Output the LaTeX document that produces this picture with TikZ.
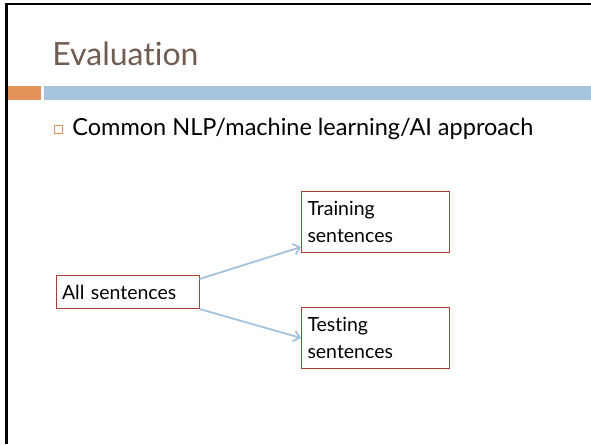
\documentclass[tikz,border=0pt]{standalone}
\usepackage{fontspec}
\setmainfont{Lato}[Ligatures=NoCommon]
\usepackage{tikz}
\usetikzlibrary{arrows.meta}
\usetikzlibrary{arrows}
\usetikzlibrary{calc}
\definecolor{titlebrown}{RGB}{112,92,82}
\definecolor{barorange}{RGB}{228,147,90}
\definecolor{barblue}{RGB}{165,195,219}
\definecolor{boxred}{RGB}{172,62,52}

\begin{document}
\begin{tikzpicture}[x=1pt, y=-1pt, auto, thick,
        title_style/.style={anchor=base west,inner sep=0pt,text=titlebrown,font=\fontsize{32}{32}\selectfont},
        text_style/.style={anchor=base west,inner sep=0pt,font=\fontsize{23.5}{24}\selectfont},
        box_style/.style={rectangle,draw=boxred,line width=1pt,anchor=north west,align=left,inner xsep=6pt,font=\fontsize{19.5}{27}\selectfont},
        link_style/.style={draw=barblue, line width=1.8pt,-{Straight Barb[length=6pt,width=11pt]}}]

        \useasboundingbox (0,0) rectangle (591,444);

        % slide frame and title bar
        \draw [line width=2.5pt] (6.5,444) -- (6.5,4) -- (591,4);
        \fill [barorange] (8,86) rectangle (41,100);
        \fill [barblue] (44,86) rectangle (591,100);

        \node [title_style](title) at (52,65) {Evaluation};

        \node [draw=barorange,line width=0.8pt,minimum size=8pt,inner sep=0pt,anchor=north west](bullet) at (53.5,124.5) {};
        \node [text_style](point) at (72,135) {Common NLP/machine learning/AI approach};

        \node [box_style,text width=131pt,minimum height=33pt](all) at (55.5,275) {All sentences};

        \node [box_style,text width=136pt,minimum height=61pt](train) at (301,191) {Training\\sentences};

        \node [box_style,text width=136pt,minimum height=61pt](test) at (301,307) {Testing\\sentences};

        \draw [link_style] ([yshift=-4pt]all.north east) -- ([yshift=6pt]train.south west);

        \draw [link_style] (all.south east) -- (test.west);

        \end{tikzpicture}
\end{document}
